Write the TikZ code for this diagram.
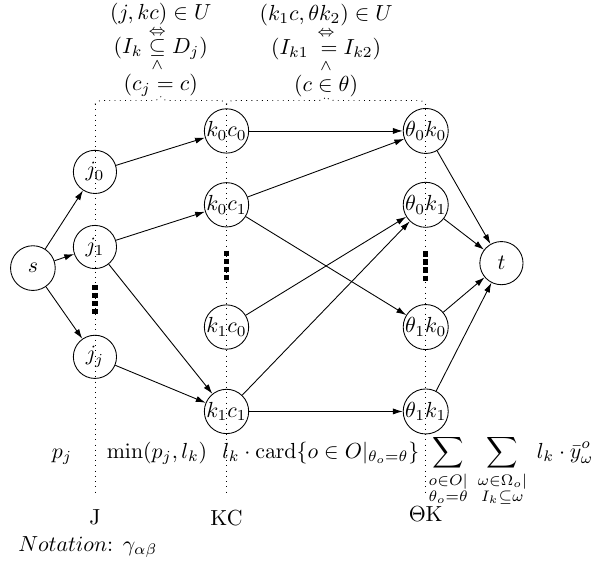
\documentclass[tikz,border=0pt]{standalone}
\usepackage{amsmath,amssymb}
\usetikzlibrary{arrows.meta,decorations.pathreplacing}

\begin{document}
\begin{tikzpicture}[>={Latex[length=4.5pt,width=2.8pt]},line join=round,
  vertex/.style={draw,circle,inner sep=0pt,minimum size=18.5pt},
  bigvertex/.style={vertex,minimum size=19.8pt},
  layer/.style={dotted},
  skipmark/.style={line width=2.4pt,dash pattern=on 2.4pt off 1.3pt}]
 \useasboundingbox (0,0) rectangle (9.62,9.05);
 % Layers J, KC, Theta K: dotted guides with braces on top.
 \coordinate (Jtop) at (1.53,7.37);
 \coordinate (KCtop) at (3.65,7.37);
 \coordinate (TKtop) at (6.86,7.37);
 \coordinate (Jbot) at (1.53,1.08);
 \coordinate (KCbot) at (3.65,1.08);
 \coordinate (TKbot) at (6.86,1.08);
 \draw[layer] (Jtop) -- (Jbot);
 \draw[layer] (KCtop) -- (KCbot);
 \draw[layer] (TKtop) -- (TKbot);
 \draw[layer,decorate,decoration={brace,amplitude=3.5pt}]
  (Jtop) -- (KCtop)
  node[midway,above=0pt,align=center] (condJKC)
  {$(j,kc)\in U$\\
   $(I_k \overset{\Leftrightarrow}{\underset{\wedge}{\subseteq}} D_j)$\\
   $(c_j=c)$};
 \draw[layer,decorate,decoration={brace,amplitude=3.5pt}]
  (KCtop) -- (TKtop)
  node[midway,above=0pt,align=center] (condKCTK)
  {$(k_1c,\theta k_2)\in U$\\
   $(I_{k1} \overset{\Leftrightarrow}{\underset{\wedge}{\vphantom{\subseteq}=}} I_{k2})$\\
   $(c\in\theta)$};
 % Vertices.
 \node[bigvertex,minimum size=20.5pt] (s) at (0.53,4.73) {$s$};
 \node[bigvertex] (j0) at (1.53,6.28) {$j_0$};
 \node[bigvertex] (j1) at (1.53,5.07) {$j_1$};
 \node[bigvertex] (jj) at (1.53,3.30) {$j_j$};
 \node[vertex] (k0c0) at (3.65,6.94) {$k_0c_0$};
 \node[vertex] (k0c1) at (3.65,5.75) {$k_0c_1$};
 \node[vertex] (k1c0) at (3.65,3.78) {$k_1c_0$};
 \node[vertex] (k1c1) at (3.65,2.42) {$k_1c_1$};
 \node[vertex] (th0k0) at (6.86,6.94) {$\theta_0k_0$};
 \node[vertex] (th0k1) at (6.86,5.75) {$\theta_0k_1$};
 \node[vertex] (th1k0) at (6.86,3.78) {$\theta_1k_0$};
 \node[vertex] (th1k1) at (6.86,2.42) {$\theta_1k_1$};
 \node[bigvertex] (t) at (8.08,4.81) {$t$};
 % Skipped vertices.
 \draw[skipmark] (1.53,4.46) -- (1.53,3.98);
 \draw[skipmark] (3.65,5.01) -- (3.65,4.53);
 \draw[skipmark] (6.86,5.00) -- (6.86,4.52);
 % Arcs.
 \draw[->] (s) -- (j0);
 \draw[->] (s) -- (j1);
 \draw[->] (s) -- (jj);
 \draw[->] (j0) -- (k0c0);
 \draw[->] (j1) -- (k0c1);
 \draw[->] (j1) -- (k1c1);
 \draw[->] (jj) -- (k1c1);
 \draw[->] (k0c0) -- (th0k0);
 \draw[->] (k0c1) -- (th0k0);
 \draw[->] (k0c1) -- (th1k0);
 \draw[->] (k1c0) -- (th0k1);
 \draw[->] (k1c1) -- (th0k1);
 \draw[->] (k1c1) -- (th1k1);
 \draw[->] (th0k0) -- (t);
 \draw[->] (th0k1) -- (t);
 \draw[->] (th1k0) -- (t);
 \draw[->] (th1k1) -- (t);
 % Capacities and layer names.
 \node[anchor=base] (capS) at (1.00,1.67) {$p_j$};
 \node[anchor=base] (capJ) at (2.53,1.67) {$\min(p_j,l_k)$};
 \node[anchor=base] (capKC) at (5.17,1.67)
  {$l_k\cdot\mathrm{card}\{o\in O|_{\theta_o=\theta}\}$};
 \node[anchor=base west,inner sep=0pt] (capTK) at (6.90,1.67)
  {$\displaystyle\sum_{\substack{o\in O|\\ \theta_o=\theta}}\;
    \sum_{\substack{\omega\in\Omega_o|\\ I_k\subseteq\omega}}\;
    l_k\cdot\bar{y}^o_\omega$};
 \node (nameJ) at (1.53,0.71) {J};
 \node (nameKC) at (3.65,0.71) {KC};
 \node (nameTK) at (6.86,0.77) {$\Theta$K};
 \node[anchor=west] (notation) at (0.17,0.23)
  {$Notation$: $\gamma_{\alpha\beta}$};
\end{tikzpicture}
\end{document}
